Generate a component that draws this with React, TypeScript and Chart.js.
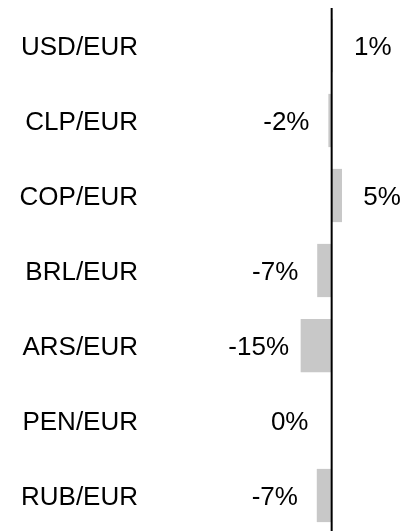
import React, { useEffect, useRef } from "react";
import { Chart, registerables } from "chart.js";

Chart.register(...registerables);

const categories = ["USD/EUR", "CLP/EUR", "COP/EUR", "BRL/EUR", "ARS/EUR", "PEN/EUR", "RUB/EUR"];
const changeValues = [0.6, -1.6, 5, -7, -15, 0, -7.2];
const axisMin = -40;
const axisMax = 35;

const FONT = "'Liberation Sans', Arial, sans-serif";

const valueLabelPlugin = {
  id: "valueLabels",
  afterDatasetsDraw(chart: any) {
    const ctx = chart.ctx;
    const meta = chart.getDatasetMeta(0);
    const xScale = chart.scales.x;
    const area = chart.chartArea;
    const zeroX = xScale.getPixelForValue(0);
    ctx.save();
    // zero line
    ctx.strokeStyle = "#000000";
    ctx.lineWidth = 2;
    ctx.beginPath();
    ctx.moveTo(zeroX, area.top);
    ctx.lineTo(zeroX, area.bottom);
    ctx.stroke();
    // labels
    ctx.font = `26px ${FONT}`;
    ctx.fillStyle = "#000000";
    ctx.textAlign = "center";
    ctx.textBaseline = "middle";
    meta.data.forEach((bar: any, i: number) => {
      const v = changeValues[i];
      const endX = xScale.getPixelForValue(v);
      const x = v > 0 ? endX + 40 : endX - 42;
      const txt = `${Math.round(v) === 0 ? 0 : Math.round(v)}%`;
      ctx.fillText(txt, x, bar.y + 2);
    });
    ctx.restore();
  },
};

export default function App() {
  const ref = useRef<HTMLCanvasElement>(null);
  useEffect(() => {
    const chart = new Chart(ref.current as HTMLCanvasElement, {
      type: "bar",
      data: {
        labels: categories,
        datasets: [
          {
            data: changeValues,
            backgroundColor: "#c8c8c8",
            borderWidth: 0,
            categoryPercentage: 0.71,
            barPercentage: 1,
          },
        ],
      },
      options: {
        indexAxis: "y",
        responsive: false,
        animation: false,
        layout: { padding: { top: 8, left: 0, right: 0, bottom: 0 } },
        plugins: {
          legend: { display: false },
          tooltip: { enabled: false },
        },
        scales: {
          x: {
            display: false,
            min: axisMin,
            max: axisMax,
          },
          y: {
            grid: { display: false, drawTicks: false },
            border: { display: false },
            ticks: {
              color: "#000000",
              font: { family: FONT, size: 26 },
              padding: 111,
              labelOffset: 2,
            },
            afterFit(scale: any) {
              scale.width = 249;
              scale.paddingTop = 0;
              scale.paddingBottom = 0;
            },
          },
        },
      },
      plugins: [valueLabelPlugin],
    });
    return () => chart.destroy();
  }, []);
  return (
    <div
      style={{
        position: "fixed",
        left: 0,
        top: 0,
        width: 404,
        height: 531,
        overflow: "hidden",
        background: "#ffffff",
      }}
    >
      <canvas ref={ref} width={404} height={533} style={{ display: "block" }} />
    </div>
  );
}
